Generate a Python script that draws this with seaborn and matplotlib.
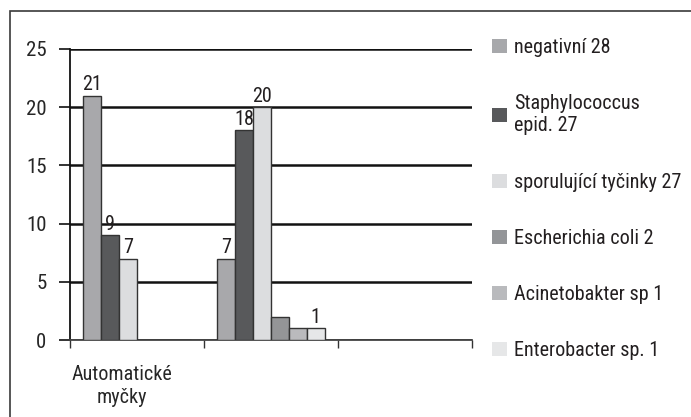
import matplotlib
matplotlib.use("Agg")
import matplotlib.pyplot as plt
import matplotlib.patches as mpatches
import matplotlib.transforms as mtransforms
import numpy as np
import pandas as pd
import seaborn as sns

# Categories (x axis) and their printed labels
categories = ["Automatické myčky", "Skupina 2", "Skupina 3"]
tick_labels = ["Automatické\nmyčky", "", ""]

# Series names as they appear in the legend
series = [
    "negativní 28",
    "Staphylococcus\nepid. 27",
    "sporulující tyčinky 27",
    "Escherichia coli 2",
    "Acinetobakter sp 1",
    "Enterobacter sp. 1",
]

# Counts per category for each series
negativni = [21, 7, 0]
staphylococcus = [9, 18, 0]
sporulujici = [7, 20, 0]
escherichia = [0, 2, 0]
acinetobakter = [0, 1, 0]
enterobacter = [0, 1, 0]

# Which bars carry a value label
labelled = [
    [True, True, False],
    [True, True, False],
    [True, True, False],
    [False, False, False],
    [False, False, False],
    [False, True, False],
]

colors = ["#a7a8ab", "#58595b", "#dcdddf", "#939598", "#b9babd", "#e6e7e8"]

values = [negativni, staphylococcus, sporulujici, escherichia, acinetobakter, enterobacter]
rows = []
for name, vals in zip(series, values):
    for cat, v in zip(categories, vals):
        rows.append({"kategorie": cat, "serie": name, "pocet": v})
df = pd.DataFrame(rows)

sns.set_style("white")
plt.rcParams["font.family"] = ["Roboto Condensed", "Sofia Sans Semi Condensed", "DejaVu Sans"]
plt.rcParams["text.color"] = "#231f20"

fig = plt.figure(figsize=(6.91, 4.17), dpi=100)
ax = fig.add_axes([70 / 691, 1 - 340 / 417, (472 - 70) / 691, (340 - 49) / 417])

sns.barplot(
    data=df, x="kategorie", y="pocet", hue="serie",
    order=categories, hue_order=series, palette=colors,
    width=0.8, edgecolor="#333333", linewidth=1.0,
    legend=False, ax=ax, zorder=3,
)

for cont, flags, vals in zip(ax.containers, labelled, values):
    labs = [str(v) if f else "" for v, f in zip(vals, flags)]
    ax.bar_label(cont, labels=labs, padding=1, fontsize=14.5, color="#231f20")

ax.set_ylim(0, 25)
ax.set_xlim(-0.5, 2.5)
ax.set_yticks([0, 5, 10, 15, 20, 25])
ax.yaxis.grid(True, color="#111111", linewidth=1.8, zorder=0)
ax.set_axisbelow(True)

# boundary ticks between categories, labels at centers
ax.set_xticks([-0.5, 0.5, 1.5, 2.5])
ax.set_xticklabels([])
ax.set_xticks([0, 1, 2], minor=True)
ax.set_xticklabels(tick_labels, minor=True, fontsize=14.5, linespacing=1.25)
ax.tick_params(axis="x", which="major", length=6, width=1, color="#333333", direction="out", bottom=True)
ax.tick_params(axis="x", which="minor", length=0, pad=18)
ax.tick_params(axis="y", length=8, width=1.2, color="#111111", direction="out", left=True, labelsize=15, pad=9)
for lab in ax.get_xticklabels(minor=True):
    lab.set_transform(lab.get_transform() + mtransforms.ScaledTranslation(-15 / 100, 0, fig.dpi_scale_trans))

ax.set_xlabel("")
ax.set_ylabel("")
for s in ["top", "right"]:
    ax.spines[s].set_visible(False)
ax.spines["left"].set_color("#111111")
ax.spines["left"].set_linewidth(1.3)
ax.spines["bottom"].set_color("#444444")
ax.spines["bottom"].set_linewidth(1.3)

handles = [mpatches.Patch(facecolor=c, edgecolor="none") for c in colors]
fig.legend(
    handles, series, loc="upper left", bbox_to_anchor=(474 / 691, 1 - 20 / 417),
    frameon=False, fontsize=14.5, handlelength=0.75, handleheight=0.7,
    handletextpad=0.35, labelspacing=1.85,
)

# outer frame
fig.patches.append(mpatches.Rectangle(
    (10 / 691, -0.1), 1.2, 1.1 - 11 / 417 + 0.0, transform=fig.transFigure,
    fill=False, edgecolor="#3a3a3a", linewidth=1.2, figure=fig,
))

fig.savefig("out.png", dpi=100, facecolor="white")
